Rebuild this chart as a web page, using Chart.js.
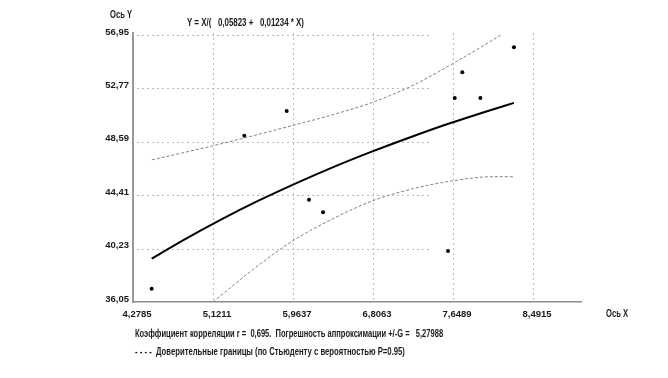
<!DOCTYPE html>
<html>
<head>
<meta charset="utf-8">
<script src="https://cdn.jsdelivr.net/npm/chart.js@4.4.0/dist/chart.umd.min.js"></script>
<style>
    body { margin: 0; background: #fff; }
    #wrap { position: relative; width: 668px; height: 378px; }
    .lbl {
        position: absolute;
        font-family: "Liberation Sans Narrow", "Liberation Sans", Arial, sans-serif;
        font-size: 10px;
        font-weight: bold;
        line-height: 12px;
        color: #1a1a1a;
        white-space: pre;
        transform-origin: left center;
    }
</style>
</head>
<body>
<div id="wrap">
    <canvas id="myChart" width="668" height="378"></canvas>
    <div class="lbl" style="left:110px;top:9px" data-w="22">Ось Y</div>
    <div class="lbl" style="left:187px;top:17px" data-w="117">Y = X/(   0,05823 +   0,01234 * X)</div>
    <div class="lbl" style="left:606px;top:308px" data-w="22">Ось X</div>
    <div class="lbl" style="left:135px;top:328px" data-w="308">Коэффициент корреляции r =  0,695.  Погрешность аппроксимации +/-G =   5,27988</div>
    <div class="lbl" style="left:135px;top:346px" data-w="270">- - - -  Доверительные границы (по Стьюденту с вероятностью P=0.95)</div>
</div>
<script>
// Tick values and labels (comma decimals as in the original)
const xTicks = [4.2785, 5.1211, 5.9637, 6.8063, 7.6489, 8.4915];
const xTickLabels = ["4,2785", "5,1211", "5,9637", "6,8063", "7,6489", "8,4915"];
const yTicks = [36.05, 40.23, 44.41, 48.59, 52.77, 56.95];
const yTickLabels = ["36,05", "40,23", "44,41", "48,59", "52,77", "56,95"];

// Observed points
const pointX = [4.475, 5.451, 5.897, 6.132, 6.280, 7.596, 7.667, 7.747, 7.937, 8.291];
const pointY = [37.08, 49.06, 51.01, 44.06, 43.07, 40.05, 52.03, 54.04, 52.03, 55.99];

// Fitted curve Y = X/(0.05823 + 0.01234*X)
const fitX = [4.475, 4.8, 5.2, 5.6, 6.0, 6.4, 6.8, 7.2, 7.6, 8.0, 8.291];
const fitY = [39.44, 40.86, 42.48, 43.98, 45.36, 46.65, 47.84, 48.95, 50.00, 50.97, 51.64];

// Confidence bands
const upperX = [4.478, 5.121, 5.964, 6.396, 6.817, 7.238, 7.660, 8.155];
const upperY = [47.18, 48.28, 49.88, 50.74, 51.72, 53.05, 54.77, 56.95];
const lowerX = [5.121, 5.542, 5.964, 6.385, 6.806, 7.228, 7.649, 8.070, 8.291];
const lowerY = [36.05, 38.59, 40.85, 42.57, 43.98, 44.92, 45.54, 45.86, 45.86];

const toXY = (xs, ys) => xs.map((x, i) => ({ x: x, y: ys[i] }));

// dotted grid: horizontal lines stop short of the right end, as in the original
const gridEndX = 7.396;
const dottedGrid = {
    id: "dottedGrid",
    beforeDatasetsDraw(chart) {
        const { ctx, chartArea, scales } = chart;
        ctx.save();
        ctx.strokeStyle = "#bdbdbd";
        ctx.lineWidth = 1;
        ctx.setLineDash([2, 3]);
        xTicks.slice(1).forEach(v => {
            const px = Math.round(scales.x.getPixelForValue(v)) + 0.5;
            ctx.beginPath();
            ctx.moveTo(px, chartArea.top);
            ctx.lineTo(px, chartArea.bottom - 2);
            ctx.stroke();
        });
        const endPx = scales.x.getPixelForValue(gridEndX);
        yTicks.slice(1).forEach(v => {
            const py = Math.round(scales.y.getPixelForValue(v)) + 0.5;
            ctx.beginPath();
            ctx.moveTo(chartArea.left + 4, py);
            ctx.lineTo(endPx, py);
            ctx.stroke();
        });
        ctx.restore();
    }
};

const tickFont = { family: "'Liberation Sans Narrow', 'Liberation Sans', Arial, sans-serif", size: 9.5, weight: "bold" };

const ctx = document.getElementById("myChart").getContext("2d");
new Chart(ctx, {
    type: "scatter",
    data: {
        datasets: [
            {
                label: "upper",
                data: toXY(upperX, upperY),
                showLine: true,
                borderColor: "#808080",
                borderWidth: 1,
                borderDash: [3, 2],
                pointRadius: 0,
                cubicInterpolationMode: "monotone"
            },
            {
                label: "lower",
                data: toXY(lowerX, lowerY),
                showLine: true,
                borderColor: "#808080",
                borderWidth: 1,
                borderDash: [3, 2],
                pointRadius: 0,
                cubicInterpolationMode: "monotone"
            },
            {
                label: "fit",
                data: toXY(fitX, fitY),
                showLine: true,
                borderColor: "#000",
                borderWidth: 2,
                pointRadius: 0,
                cubicInterpolationMode: "monotone"
            },
            {
                label: "points",
                data: toXY(pointX, pointY),
                backgroundColor: "#000",
                borderColor: "#000",
                pointRadius: 2,
                borderWidth: 0
            }
        ]
    },
    options: {
        responsive: false,
        animation: false,
        layout: { padding: { top: 33, right: 87, left: 0, bottom: 0 } },
        plugins: { legend: { display: false }, tooltip: { enabled: false } },
        scales: {
            x: {
                type: "linear",
                min: 4.2785,
                max: 8.997,
                afterBuildTicks: s => { s.ticks = xTicks.map(v => ({ value: v })); },
                afterFit: s => { s.height = 76; },
                grid: { display: false, drawTicks: false },
                border: { display: true, color: "#8c8c8c", width: 1.5 },
                ticks: {
                    callback: (v, i) => xTickLabels[i],
                    font: tickFont,
                    color: "#1a1a1a",
                    padding: 7,
                    labelOffset: 4,
                    autoSkip: false,
                    maxRotation: 0
                }
            },
            y: {
                type: "linear",
                min: 36.05,
                max: 57.11,
                afterBuildTicks: s => { s.ticks = yTicks.map(v => ({ value: v })); },
                afterFit: s => { s.width = 133; },
                grid: { display: false, drawTicks: false },
                border: { display: true, color: "#9a9a9a", width: 2 },
                ticks: {
                    callback: (v, i) => yTickLabels[i],
                    font: tickFont,
                    color: "#1a1a1a",
                    padding: 4,
                    labelOffset: -3,
                    autoSkip: false
                }
            }
        }
    },
    plugins: [dottedGrid]
});

// squeeze the labels to the width they have in the original
document.querySelectorAll(".lbl").forEach(el => {
    const w = el.getBoundingClientRect().width;
    const target = Number(el.dataset.w);
    el.style.transform = "scaleX(" + (target / w).toFixed(3) + ")";
});
</script>
</body>
</html>
